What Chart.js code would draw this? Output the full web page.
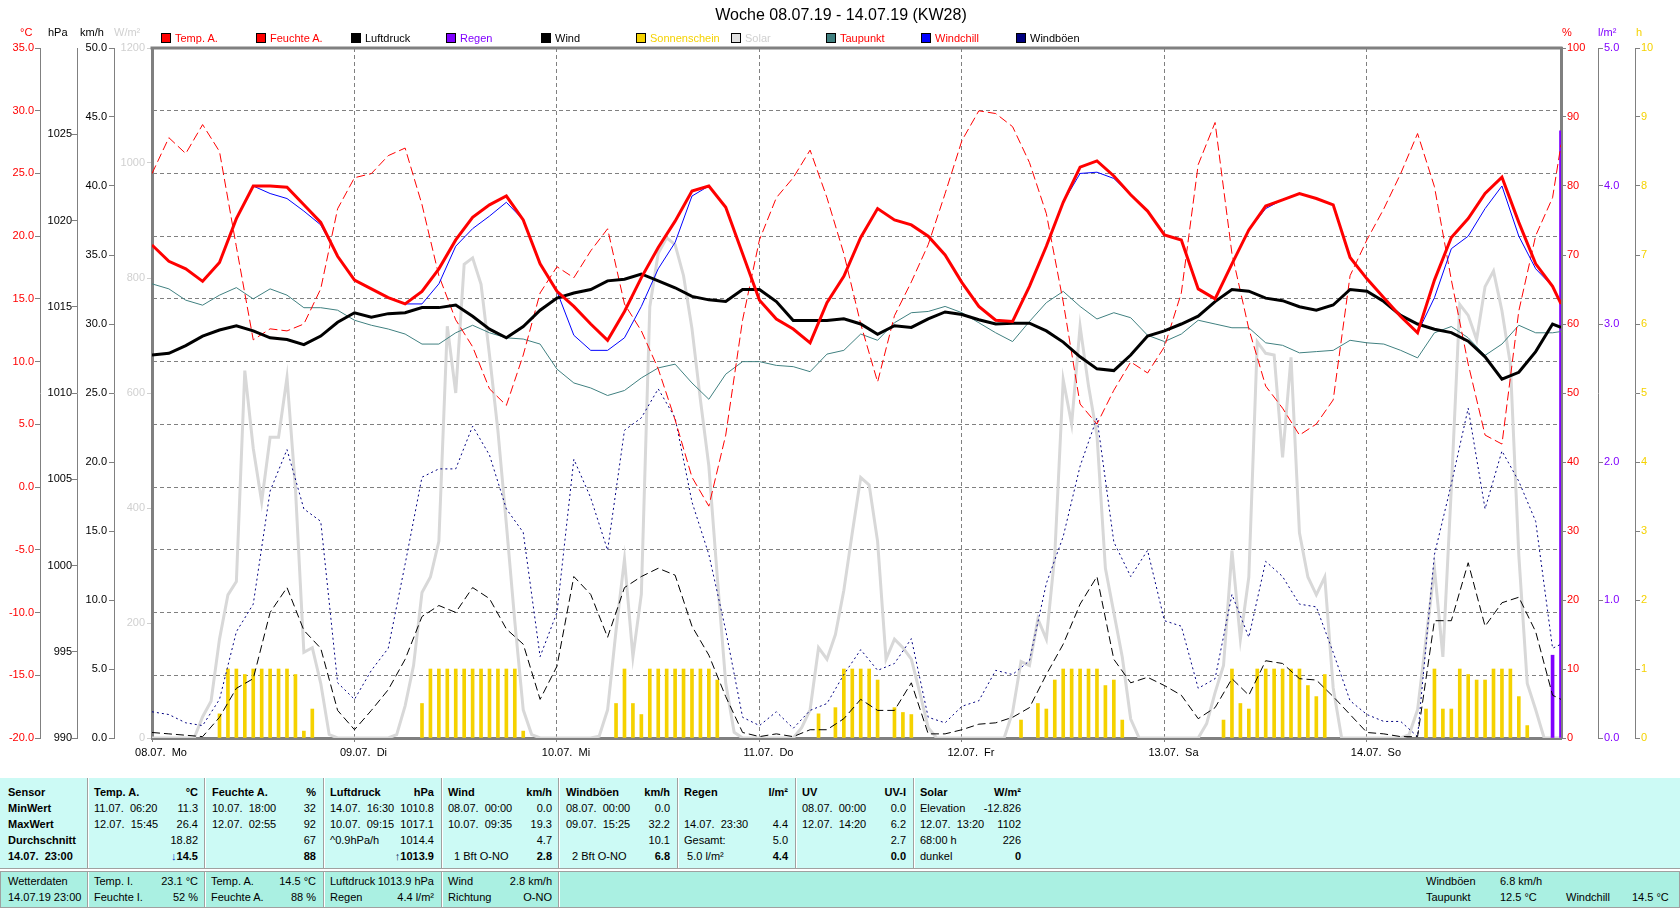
<!DOCTYPE html>
<html>
<head>
<meta charset="utf-8">
<title>Woche 08.07.19 - 14.07.19 (KW28)</title>
<script src="https://cdn.jsdelivr.net/npm/chart.js@4.4.0/dist/chart.umd.min.js"></script>
<style>
body { margin:0; background:#fff; }
#page { position:relative; width:1680px; height:909px; overflow:hidden; font-family:'Liberation Sans', Arial, sans-serif; font-size:11px; color:#000; }
#chart { position:absolute; left:0; top:0; }
.t { position:absolute; white-space:pre; line-height:14px; }
.box { position:absolute; width:8px; height:8px; border:1px solid #000; }
#topBlock { position:absolute; left:0; top:778px; width:1680px; height:90px; background:#ccfaf5; border-bottom:1px solid #a0a0a0; }
#botBlock { position:absolute; left:0; top:871px; width:1678px; height:35px; background:#aaf0e2; border:1px solid #a0a0a0; }
.sep { position:absolute; width:1px; background:#a0a0a0; border-right:1px solid #fff; }
</style>
</head>
<body>
<div id="page">
<canvas id="chart" width="1680" height="778"></canvas>
<div id="topBlock"></div>
<div id="botBlock"></div>
</div>
<script>
// Zeitachse: Stunden ab 08.07. 00:00
const hours2 = [];
for (let h = 0; h < 168; h += 2) hours2.push(h);
hours2.push(167);
const hours1 = [];
for (let h = 0; h < 168; h++) hours1.push(h);

const dayLabels = ['08.07.  Mo', '09.07.  Di', '10.07.  Mi', '11.07.  Do', '12.07.  Fr', '13.07.  Sa', '14.07.  So'];

// alle 2 Stunden
const tempA = [
  19.3, 18.0, 17.4, 16.4, 17.9, 21.4, 24.0, 24.0, 23.9, 22.5, 21.1, 18.4,
  16.5, 15.8, 15.1, 14.6, 15.6, 17.4, 19.7, 21.5, 22.5, 23.2, 21.3, 17.8,
  15.6, 14.4, 13.0, 11.7, 14.0, 16.7, 19.1, 21.2, 23.6, 24.0, 22.3, 18.6,
  14.9, 13.4, 12.6, 11.5, 14.7, 16.8, 19.9, 22.2, 21.3, 20.9, 20.0, 18.5,
  16.3, 14.4, 13.3, 13.2, 16.0, 19.2, 22.7, 25.5, 26.0, 24.8, 23.3, 22.0,
  20.1, 19.7, 15.8, 15.0, 17.8, 20.5, 22.4, 22.9, 23.4, 23.0, 22.5, 18.3,
  16.6, 15.1, 13.6, 12.3, 16.5, 19.9, 21.4, 23.4, 24.7, 21.1, 17.8, 16.0, 14.6
];
const windchill = [
  19.3, 18.0, 17.4, 16.4, 17.9, 21.4, 24.0, 23.4, 23.0, 22.0, 20.9, 18.4,
  16.5, 15.8, 15.1, 14.6, 14.6, 16.2, 19.2, 20.6, 21.6, 22.7, 21.3, 17.8,
  15.6, 12.1, 10.9, 10.9, 11.9, 14.4, 17.4, 19.5, 23.2, 24.0, 22.3, 18.6,
  14.9, 13.4, 12.6, 11.5, 14.7, 16.8, 19.9, 22.2, 21.3, 20.9, 20.0, 18.5,
  16.3, 14.4, 13.3, 13.2, 16.0, 19.2, 22.7, 25.0, 25.1, 24.6, 23.3, 22.0,
  20.1, 19.7, 15.8, 15.0, 17.8, 20.5, 22.2, 22.9, 23.4, 23.0, 22.5, 18.3,
  16.6, 15.1, 13.6, 12.3, 15.1, 19.0, 20.0, 22.2, 24.0, 20.0, 17.4, 16.0, 14.6
];
const taupunkt = [
  16.2, 15.8, 14.9, 14.5, 15.3, 15.9, 15.0, 15.8, 15.3, 14.3, 14.3, 14.1,
  13.3, 12.9, 12.6, 12.2, 11.4, 11.4, 12.3, 12.9, 12.3, 11.9, 11.8, 11.4,
  9.4, 8.3, 7.9, 7.3, 7.7, 8.7, 9.5, 9.8, 8.3, 7.0, 9.0, 10.0,
  10.0, 9.7, 9.6, 9.2, 10.6, 10.9, 12.2, 11.7, 13.1, 13.9, 14.0, 14.4,
  13.9, 13.1, 12.3, 11.6, 13.2, 14.7, 15.6, 14.4, 13.4, 13.9, 13.5, 12.1,
  11.6, 12.2, 13.3, 13.0, 12.7, 12.7, 11.5, 11.3, 10.7, 10.8, 10.9, 11.7,
  11.5, 11.4, 10.9, 10.3, 12.3, 12.8, 11.9, 10.5, 11.4, 12.9, 12.3, 12.3, 12.4
];
const feuchteA = [
  81.8, 87.0, 84.7, 88.9, 85.0, 71.2, 57.7, 59.3, 59.0, 60.0, 65.1, 76.7,
  81.2, 81.8, 84.4, 85.5, 77.3, 67.0, 60.6, 56.7, 50.6, 48.2, 55.5, 64.5,
  68.3, 66.7, 70.6, 73.8, 62.9, 59.0, 53.5, 46.1, 37.8, 33.6, 43.9, 60.6,
  72.2, 78.3, 81.2, 85.2, 78.3, 70.2, 60.0, 51.6, 61.2, 66.1, 71.5, 78.9,
  86.6, 90.9, 90.5, 88.6, 83.4, 76.0, 63.2, 48.4, 45.5, 50.4, 54.5, 52.9,
  56.7, 64.5, 83.1, 89.2, 70.2, 59.3, 51.0, 47.8, 43.9, 45.5, 49.0, 67.0,
  72.2, 76.7, 81.8, 87.6, 79.9, 66.4, 54.2, 43.9, 42.6, 61.9, 72.8, 78.3, 86.0
];
const luftdruck = [
  1012.2, 1012.3, 1012.75, 1013.3, 1013.65, 1013.9, 1013.6, 1013.2, 1013.1, 1012.8, 1013.3, 1014.1,
  1014.65, 1014.4, 1014.6, 1014.65, 1014.95, 1014.95, 1015.1, 1014.45, 1013.7, 1013.2, 1013.85, 1014.8,
  1015.5, 1015.8, 1016.0, 1016.5, 1016.6, 1016.9, 1016.5, 1016.1, 1015.6, 1015.4, 1015.3, 1016.0,
  1016.0, 1015.3, 1014.2, 1014.2, 1014.2, 1014.3, 1014.0, 1013.4, 1013.9, 1013.8, 1014.3, 1014.7,
  1014.55, 1014.25, 1014.0, 1014.05, 1014.05, 1013.6, 1012.95, 1012.1, 1011.4, 1011.3, 1012.2, 1013.3,
  1013.6, 1014.0, 1014.45, 1015.3, 1016.0, 1015.9, 1015.5, 1015.35, 1015.0, 1014.8, 1015.1, 1016.0,
  1015.9, 1015.3, 1014.5, 1014.0, 1013.7, 1013.5, 1013.0, 1012.1, 1010.8, 1011.2, 1012.4, 1014.0, 1013.8
];
const wind = [
  0.4, 0.3, 0.2, 0.1, 1.5, 3.6, 4.3, 9.1, 10.9, 7.8, 6.5, 2.0,
  0.6, 2.0, 3.5, 5.7, 8.8, 9.6, 9.1, 10.9, 10.1, 7.9, 6.8, 2.8,
  5.2, 11.7, 10.4, 7.3, 10.9, 11.7, 12.3, 11.8, 8.1, 6.0, 3.0, 0.4,
  0.1, 0.3, 0.1, 0.6, 0.6, 1.4, 2.8, 2.0, 2.0, 4.0, 0.3, 0.3,
  0.6, 1.0, 1.1, 1.5, 2.2, 4.6, 6.8, 9.7, 11.7, 5.7, 4.0, 4.4,
  3.8, 3.1, 1.4, 2.2, 4.3, 3.1, 5.6, 5.4, 4.3, 4.2, 3.0, 1.7,
  0.4, 0.3, 0.1, 0.1, 8.5, 8.5, 12.7, 8.1, 9.8, 10.2, 7.7, 3.1, 2.8
];
const windboeen = [
  1.9, 1.7, 1.1, 0.9, 2.8, 7.7, 9.7, 17.9, 20.9, 16.6, 15.7, 4.0,
  2.8, 4.9, 6.5, 12.6, 18.9, 19.5, 19.5, 22.6, 20.5, 16.6, 14.9, 5.9,
  9.1, 20.2, 17.4, 13.6, 22.3, 23.2, 25.3, 23.2, 17.1, 13.3, 7.8, 1.5,
  0.9, 1.9, 0.7, 2.0, 2.5, 4.6, 6.4, 4.9, 5.4, 7.2, 1.5, 1.1,
  2.3, 2.7, 4.9, 4.6, 5.6, 11.2, 14.6, 19.7, 23.2, 14.2, 11.7, 13.6,
  8.5, 8.1, 3.6, 4.3, 10.4, 7.3, 12.8, 11.7, 9.7, 9.5, 6.2, 2.7,
  1.7, 1.2, 1.2, 0.1, 13.3, 18.4, 23.9, 16.6, 20.8, 18.6, 15.7, 6.5, 6.8
];
// stündlich
const solar = [
  0, 0, 0, 0, 0, 0, 37, 64, 172, 249, 272, 639, 504, 411, 523, 523, 627, 434, 149, 157, 95, 6, 0, 0,
  0, 0, 0, 0, 0, 6, 56, 126, 253, 280, 342, 716, 600, 824, 835, 789, 666, 534, 372, 203, 49, 6, 0, 0,
  0, 0, 0, 0, 0, 3, 49, 187, 311, 141, 250, 750, 843, 870, 858, 804, 712, 588, 473, 280, 95, 10, 0, 0,
  0, 0, 0, 0, 0, 18, 49, 157, 137, 180, 257, 357, 453, 440, 342, 137, 172, 157, 137, 79, 18, 0, 0, 0,
  0, 0, 0, 0, 0, 0, 45, 133, 126, 207, 172, 318, 623, 546, 716, 612, 527, 295, 218, 141, 33, 0, 0, 0,
  0, 0, 0, 0, 0, 25, 79, 126, 326, 172, 280, 689, 669, 666, 488, 662, 357, 280, 249, 280, 87, 0, 0, 0,
  0, 0, 0, 0, 0, 6, 49, 172, 295, 141, 434, 754, 735, 693, 785, 812, 743, 650, 318, 95, 49, 0, 0, 0
];
const sunHours = [
  8, 9, 10, 11, 12, 13, 14, 15, 16, 17, 18, 19,
  32, 33, 34, 35, 36, 37, 38, 39, 40, 41, 42, 43, 44,
  55, 56, 57, 58, 59, 60, 61, 62, 63, 64, 65, 66, 67,
  79, 81, 82, 83, 84, 85, 86, 88, 89, 90,
  103, 105, 106, 107, 108, 109, 110, 111, 112, 113, 114, 115,
  127, 128, 129, 130, 131, 132, 133, 134, 135, 136, 137, 138, 139,
  151, 152, 153, 154, 155, 156, 157, 158, 159, 160, 161, 162, 163
];
const sunValues = [
  0.35, 1, 1, 0.92, 1, 1, 1, 1, 1, 0.92, 0.1, 0.42,
  0.5, 1, 1, 1, 1, 1, 1, 1, 1, 1, 1, 1, 0.1,
  0.5, 1, 0.5, 0.34, 1, 1, 1, 1, 1, 1, 1, 1, 0.84,
  0.35, 0.44, 1, 1, 1, 1, 0.84, 0.44, 0.37, 0.34,
  0.26, 0.5, 0.42, 0.84, 1, 1, 1, 1, 1, 0.76, 0.84, 0.26,
  0.26, 1, 0.5, 0.42, 1, 1, 1, 1, 1, 1, 0.76, 0.6, 0.92,
  0.42, 1, 0.42, 0.42, 1, 0.92, 0.84, 0.84, 1, 1, 1, 0.6, 0.18
];
const rainHours = [166, 167];
const rainValues = [0.6, 4.4];

const legendLabels = ['Temp. A.', 'Feuchte A.', 'Luftdruck', 'Regen', 'Wind', 'Sonnenschein', 'Solar', 'Taupunkt', 'Windchill', 'Windböen'];
const legendBoxColors = ['#ff0000', '#ff0000', '#000000', '#8000ff', '#000000', '#f5d200', '#e0e0e0', '#408080', '#0000ff', '#000080'];
const legendTextColors = ['#ff0000', '#ff0000', '#000000', '#8000ff', '#000000', '#f5d200', '#d0d0d0', '#ff0000', '#ff0000', '#000000'];

const page = document.getElementById('page');
const FONT = "'Liberation Sans', Arial, sans-serif";

function put(text, x, yc, o) {
  o = o || {};
  const d = document.createElement('div');
  d.className = 't';
  if (o.html) d.innerHTML = text; else d.textContent = text;
  d.style.top = (yc - 7) + 'px';
  if (o.right) d.style.right = (1680 - x) + 'px';
  else d.style.left = x + 'px';
  if (o.bold) d.style.fontWeight = 'bold';
  if (o.color) d.style.color = o.color;
  if (o.size) { d.style.fontSize = o.size + 'px'; d.style.lineHeight = '18px'; d.style.top = (yc - 9) + 'px'; }
  page.appendChild(d);
  return d;
}

// Titel, Legende, Achsenköpfe
const title = put('Woche 08.07.19 - 14.07.19 (KW28)', 0, 15, { size: 16 });
title.style.left = '0px'; title.style.width = '1682px'; title.style.textAlign = 'center';

legendLabels.forEach((lab, i) => {
  const x = 161 + 95 * i;
  const b = document.createElement('div');
  b.className = 'box';
  b.style.left = x + 'px'; b.style.top = '33px';
  b.style.background = legendBoxColors[i];
  page.appendChild(b);
  put(lab, x + 14, 38, { color: legendTextColors[i] });
});

put('°C', 20, 32, { color: '#ff0000' });
put('hPa', 48, 32);
put('km/h', 80, 32);
put('W/m²', 114, 32, { color: '#d0d0d0' });
put('%', 1562, 32, { color: '#ff0000' });
put('l/m²', 1598, 32, { color: '#8000ff' });
put('h', 1636, 32, { color: '#f5d200' });

// Tabelle
const sepTop = [87, 204, 323, 441, 558, 677, 795, 913];
const sepBot = [87, 204, 323, 441, 558];
sepTop.forEach(x => {
  const s = document.createElement('div'); s.className = 'sep';
  s.style.left = x + 'px'; s.style.top = '778px'; s.style.height = '90px';
  page.appendChild(s);
});
sepBot.forEach(x => {
  const s = document.createElement('div'); s.className = 'sep';
  s.style.left = x + 'px'; s.style.top = '872px'; s.style.height = '35px';
  page.appendChild(s);
});

const rowY = [792, 808, 824, 840, 856];
const rowNames = ['Sensor', 'MinWert', 'MaxWert', 'Durchschnitt', '14.07.  23:00'];
const colLeft = [94, 212, 330, 448, 566, 684, 802, 920];
const colRight = [198, 316, 434, 552, 670, 788, 906, 1021];
const colHead = ['Temp. A.', 'Feuchte A.', 'Luftdruck', 'Wind', 'Windböen', 'Regen', 'UV', 'Solar'];
const colUnit = ['°C', '%', 'hPa', 'km/h', 'km/h', 'l/m²', 'UV-I', 'W/m²'];
const colMinLabel = ['11.07.  06:20', '10.07.  18:00', '14.07.  16:30', '08.07.  00:00', '08.07.  00:00', '', '08.07.  00:00', 'Elevation'];
const colMin = ['11.3', '32', '1010.8', '0.0', '0.0', '', '0.0', '-12.826'];
const colMaxLabel = ['12.07.  15:45', '12.07.  02:55', '10.07.  09:15', '10.07.  09:35', '09.07.  15:25', '14.07.  23:30', '12.07.  14:20', '12.07.  13:20'];
const colMax = ['26.4', '92', '1017.1', '19.3', '32.2', '4.4', '6.2', '1102'];
const colAvgLabel = ['', '', '^0.9hPa/h', '', '', 'Gesamt:', '', '68:00 h'];
const colAvg = ['18.82', '67', '1014.4', '4.7', '10.1', '5.0', '2.7', '226'];
const colNowLabel = ['', '', '', '  1 Bft O-NO', '  2 Bft O-NO', ' 5.0 l/m²', '', 'dunkel'];
const colNow = ['<span style="color:#0030d0">&#8595;</span>14.5', '88', '<span style="color:#203060">&#8593;</span>1013.9', '2.8', '6.8', '4.4', '0.0', '0'];

rowNames.forEach((n, r) => put(n, 8, rowY[r], { bold: true }));
colHead.forEach((h, c) => {
  const L = colLeft[c], R = colRight[c];
  put(h, L, rowY[0], { bold: true });
  put(colUnit[c], R, rowY[0], { bold: true, right: true });
  put(colMinLabel[c], L, rowY[1]); put(colMin[c], R, rowY[1], { right: true });
  put(colMaxLabel[c], L, rowY[2]); put(colMax[c], R, rowY[2], { right: true });
  put(colAvgLabel[c], L, rowY[3]); put(colAvg[c], R, rowY[3], { right: true });
  put(colNowLabel[c], L, rowY[4]); put(colNow[c], R, rowY[4], { right: true, bold: true, html: true });
});

const botY = [881, 897];
put('Wetterdaten', 8, botY[0]); put('14.07.19 23:00', 8, botY[1]);
put('Temp. I.', 94, botY[0]); put('23.1 °C', 198, botY[0], { right: true });
put('Feuchte I.', 94, botY[1]); put('52 %', 198, botY[1], { right: true });
put('Temp. A.', 211, botY[0]); put('14.5 °C', 316, botY[0], { right: true });
put('Feuchte A.', 211, botY[1]); put('88 %', 316, botY[1], { right: true });
put('Luftdruck', 330, botY[0]); put('1013.9 hPa', 434, botY[0], { right: true });
put('Regen', 330, botY[1]); put('4.4 l/m²', 434, botY[1], { right: true });
put('Wind', 448, botY[0]); put('2.8 km/h', 552, botY[0], { right: true });
put('Richtung', 448, botY[1]); put('O-NO', 552, botY[1], { right: true });
put('Windböen', 1426, botY[0]); put('6.8 km/h', 1500, botY[0]);
put('Taupunkt', 1426, botY[1]); put('12.5 °C', 1500, botY[1]);
put('Windchill', 1566, botY[1]); put('14.5 °C', 1632, botY[1]);

// Diagramm
Chart.defaults.font.family = FONT;
Chart.defaults.font.size = 11;
Chart.defaults.color = '#000';

function pts(xs, ys) { return ys.map((v, i) => ({ x: xs[i], y: v })); }

function yAxis(pos, weight, min, max, step, width, color, fmt, pad, tickCol, borderW) {
  return {
    type: 'linear', position: pos, weight: weight, min: min, max: max,
    afterFit: s => { s.width = width; },
    ticks: { stepSize: step, color: color, padding: pad, callback: fmt, autoSkip: false },
    grid: { drawOnChartArea: false, drawTicks: true, tickLength: 5, tickColor: tickCol || '#808080', tickWidth: 1 },
    border: { display: true, color: '#808080', width: borderW || 1 }
  };
}

const scaleT = yAxis('left', 3, -20, 35, 5, 40, '#ff0000', v => v.toFixed(1), 1);
scaleT.grid.drawOnChartArea = true;
scaleT.grid.color = '#808080';
scaleT.border.dash = [4, 3];

const scaleP = yAxis('left', 2, 990, 1030, 5, 37, '#000', v => String(v), 0);
scaleP.afterBuildTicks = s => { s.ticks = s.ticks.filter(t => t.value < 1030); };

const frame = {
  id: 'frame',
  beforeDatasetsDraw(chart) {
    const a = chart.chartArea, c = chart.ctx;
    c.save();
    c.strokeStyle = '#808080';
    c.lineWidth = 3;
    c.beginPath();
    c.moveTo(a.left - 1.5, a.top);
    c.lineTo(a.right + 1.5, a.top);
    c.stroke();
    c.restore();
  }
};

const lineBase = { pointRadius: 0, tension: 0, fill: false };

new Chart(document.getElementById('chart'), {
  type: 'line',
  data: {
    datasets: [
      Object.assign({ label: 'Temp. A.', data: pts(hours2, tempA), yAxisID: 'yT', borderColor: '#ff0000', borderWidth: 3, order: 1 }, lineBase),
      Object.assign({ label: 'Luftdruck', data: pts(hours2, luftdruck), yAxisID: 'yP', borderColor: '#000000', borderWidth: 3, order: 2 }, lineBase),
      Object.assign({ label: 'Windchill', data: pts(hours2, windchill), yAxisID: 'yT', borderColor: '#0000ff', borderWidth: 1, order: 3 }, lineBase),
      Object.assign({ label: 'Feuchte A.', data: pts(hours2, feuchteA), yAxisID: 'yH', borderColor: '#ff0000', borderWidth: 1, borderDash: [9, 4], order: 4 }, lineBase),
      Object.assign({ label: 'Taupunkt', data: pts(hours2, taupunkt), yAxisID: 'yT', borderColor: '#408080', borderWidth: 1, order: 5 }, lineBase),
      Object.assign({ label: 'Wind', data: pts(hours2, wind), yAxisID: 'yW', borderColor: '#000000', borderWidth: 1, borderDash: [8, 4], order: 6 }, lineBase),
      Object.assign({ label: 'Windböen', data: pts(hours2, windboeen), yAxisID: 'yW', borderColor: '#000080', borderWidth: 1, borderDash: [2, 3], order: 7 }, lineBase),
      { type: 'bar', label: 'Regen', data: pts(rainHours, rainValues), yAxisID: 'yR', backgroundColor: '#8000ff', barThickness: 3, grouped: false, order: 8 },
      Object.assign({ label: 'Solar', data: pts(hours1, solar), yAxisID: 'ySol', borderColor: '#d8d8d8', borderWidth: 3, order: 9 }, lineBase),
      { type: 'bar', label: 'Sonnenschein', data: pts(sunHours, sunValues), yAxisID: 'ySun', backgroundColor: '#f5d200', barThickness: 3, grouped: false, order: 10 }
    ]
  },
  options: {
    responsive: false,
    animation: false,
    devicePixelRatio: 1,
    layout: { padding: { top: 48, left: 0, right: 0, bottom: 0 } },
    plugins: { legend: { display: false }, title: { display: false }, tooltip: { enabled: false } },
    scales: {
      x: {
        type: 'linear', min: 0, max: 167, offset: false,
        afterFit: s => { s.height = 40; },
        afterBuildTicks: s => { s.ticks = s.ticks.filter(t => t.value % 24 === 0 && t.value < 167); },
        ticks: { stepSize: 24, autoSkip: false, maxRotation: 0, padding: 4, labelOffset: 9, color: '#000',
                 callback: v => dayLabels[v / 24] },
        grid: { offset: false, drawOnChartArea: true, color: '#808080', drawTicks: true, tickLength: 4, tickColor: '#808080' },
        border: { display: true, color: '#808080', width: 3, dash: [4, 3] }
      },
      yT: scaleT,
      yP: scaleP,
      yW: yAxis('left', 1, 0, 50, 5, 37, '#000', v => v.toFixed(1), 2),
      ySol: yAxis('left', 0, 0, 1200, 200, 38, '#d0d0d0', v => String(v), 2, '#d0d0d0', 3),
      yH: yAxis('right', 0, 0, 100, 10, 37, '#ff0000', v => String(v), 1, '#808080', 3),
      yR: yAxis('right', 1, 0, 5, 1, 37, '#8000ff', v => v.toFixed(1), 1),
      ySun: yAxis('right', 2, 0, 10, 1, 45, '#f5d200', v => String(v), 1)
    }
  },
  plugins: [frame]
});
</script>
</body>
</html>
